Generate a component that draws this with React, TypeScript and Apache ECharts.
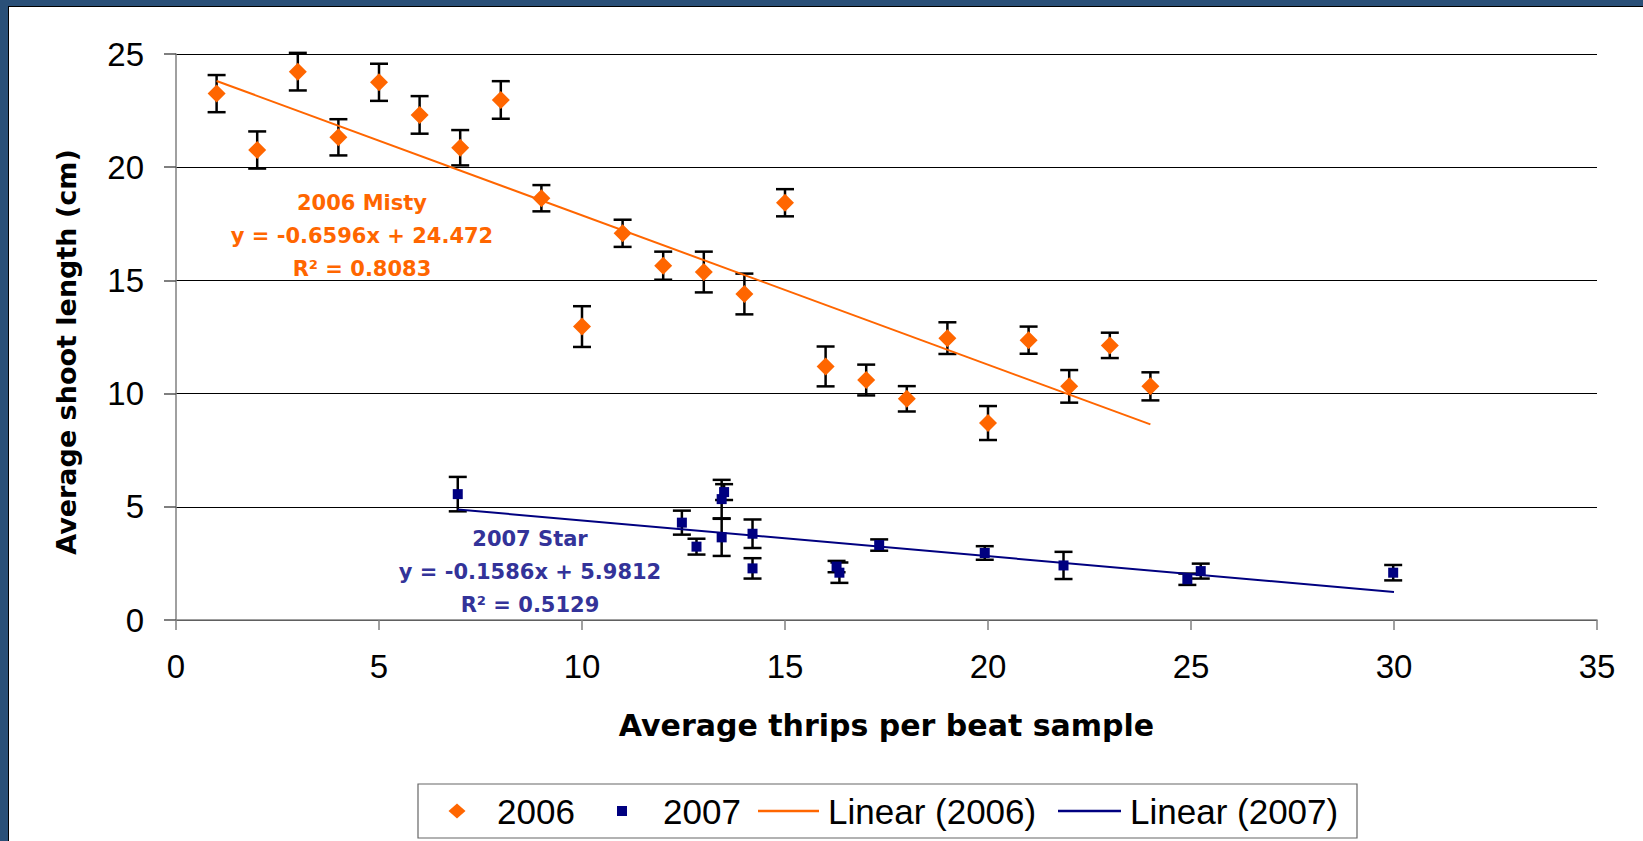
import React, { useEffect, useRef } from "react";
import * as echarts from "echarts";

// ---- data ----
const x2006 = [1, 2, 3, 4, 5, 6, 7, 8, 9, 10, 11, 12, 13, 14, 15, 16, 17, 18, 19, 20, 21, 22, 23, 24];
const y2006 = [23.25, 20.76, 24.22, 21.32, 23.75, 22.31, 20.86, 22.97, 18.63, 12.96, 17.08, 15.65, 15.37, 14.4, 18.43, 11.2, 10.6, 9.77, 12.45, 8.7, 12.36, 10.32, 12.13, 10.32];
const err2006 = [0.82, 0.82, 0.83, 0.8, 0.82, 0.83, 0.78, 0.83, 0.58, 0.9, 0.6, 0.62, 0.9, 0.9, 0.6, 0.88, 0.68, 0.56, 0.7, 0.75, 0.6, 0.72, 0.56, 0.62];

const x2007 = [6.94, 12.46, 12.82, 13.44, 13.44, 13.5, 14.2, 14.2, 16.27, 16.34, 17.32, 19.92, 21.86, 24.91, 25.24, 29.98];
const y2007 = [5.56, 4.3, 3.24, 3.65, 5.34, 5.65, 3.81, 2.28, 2.36, 2.09, 3.31, 2.96, 2.41, 1.8, 2.16, 2.09];
const err2007 = [0.76, 0.53, 0.35, 0.82, 0.85, 0.35, 0.63, 0.45, 0.25, 0.45, 0.25, 0.3, 0.6, 0.25, 0.33, 0.34];

const trend2006X = [1, 24];
const trend2006Y = [23.81, 8.64];
const trend2007X = [6.94, 30];
const trend2007Y = [4.88, 1.24];

const xTicks = { min: 0, max: 35, interval: 5 };
const yTicks = { min: 0, max: 25, interval: 5 };

const seriesNames = ["2006", "2007", "Linear (2006)", "Linear (2007)"];
const note2006 = ["2006 Misty", "y = -0.6596x + 24.472", "R\u00b2 = 0.8083"];
const note2007 = ["2007 Star", "y = -0.1586x + 5.9812", "R\u00b2 = 0.5129"];

const ORANGE = "#FF6600";
const NAVY = "#000080";
const NOTE_BLUE = "#333399";
const ARIAL = "'Liberation Sans', Arial, sans-serif";
const BOLDFONT = "'DejaVu Sans', sans-serif";

const zip2 = (a: number[], b: number[]) => a.map((v, i) => [v, b[i]]);
const zip3 = (a: number[], b: number[], c: number[]) => a.map((v, i) => [v, b[i], c[i]]);

function errorBarRender(params: any, api: any) {
  const x = api.value(0);
  const y = api.value(1);
  const e = api.value(2);
  const top = api.coord([x, y + e]);
  const bot = api.coord([x, y - e]);
  const hw = 9;
  const style = { stroke: "#000", lineWidth: 2.5 };
  return {
    type: "group",
    children: [
      { type: "line", shape: { x1: top[0], y1: top[1], x2: bot[0], y2: bot[1] }, style },
      { type: "line", shape: { x1: top[0] - hw, y1: top[1], x2: top[0] + hw, y2: top[1] }, style },
      { type: "line", shape: { x1: bot[0] - hw, y1: bot[1], x2: bot[0] + hw, y2: bot[1] }, style },
    ],
  };
}

function noteTexts(lines: string[], cx: number, cy0: number, color: string) {
  return lines.map((t, i) => ({
    type: "text",
    x: cx,
    y: cy0 + i * 33,
    style: {
      text: t,
      fill: color,
      font: `bold 21px ${BOLDFONT}`,
      textAlign: "center",
      textVerticalAlign: "middle",
    },
    z: 10,
  }));
}

function legendText(t: string, x: number, y: number) {
  return {
    type: "text",
    x,
    y,
    style: { text: t, fill: "#000", font: `35px ${ARIAL}`, textAlign: "left", textVerticalAlign: "middle" },
    z: 10,
  };
}

function buildLegend() {
  const cy = 811;
  return [
    {
      type: "rect",
      shape: { x: 418, y: 784, width: 939, height: 54 },
      style: { fill: "#fff", stroke: "#666", lineWidth: 1.2 },
      z: 5,
    },
    {
      type: "polygon",
      shape: { points: [[457, cy - 7.5], [465.5, cy], [457, cy + 7.5], [448.5, cy]] },
      style: { fill: ORANGE },
      z: 10,
    },
    legendText(seriesNames[0], 497, cy),
    { type: "rect", shape: { x: 617, y: cy - 5, width: 10, height: 10 }, style: { fill: NAVY }, z: 10 },
    legendText(seriesNames[1], 663, cy),
    { type: "line", shape: { x1: 758, y1: cy, x2: 819, y2: cy }, style: { stroke: ORANGE, lineWidth: 2.5 }, z: 10 },
    legendText(seriesNames[2], 828, cy),
    { type: "line", shape: { x1: 1058, y1: cy, x2: 1121, y2: cy }, style: { stroke: NAVY, lineWidth: 2.5 }, z: 10 },
    legendText(seriesNames[3], 1130, cy),
  ];
}

export default function App() {
  const ref = useRef<HTMLDivElement>(null);

  useEffect(() => {
    if (!ref.current) return;
    const chart = echarts.init(ref.current, undefined, { renderer: "svg" });
    const option: any = {
      animation: false,
      backgroundColor: "#ffffff",
      grid: { left: 176, right: 46, top: 54, bottom: 221, containLabel: false },
      xAxis: {
        type: "value",
        min: xTicks.min,
        max: xTicks.max,
        interval: xTicks.interval,
        axisLine: { show: true, onZero: false, lineStyle: { color: "#808080", width: 1.5 } },
        axisTick: { show: true, length: 10, lineStyle: { color: "#808080", width: 1.5 } },
        splitLine: { show: false },
        axisLabel: { fontSize: 33, color: "#000", margin: 30, fontFamily: ARIAL },
        name: "Average thrips per beat sample",
        nameLocation: "middle",
        nameGap: 90,
        nameTextStyle: { fontSize: 30, fontWeight: "bold", fontFamily: BOLDFONT, color: "#000" },
      },
      yAxis: {
        type: "value",
        min: yTicks.min,
        max: yTicks.max,
        interval: yTicks.interval,
        axisLine: { show: true, lineStyle: { color: "#808080", width: 1.5 } },
        axisTick: { show: true, length: 12, lineStyle: { color: "#555", width: 1.5 } },
        splitLine: { show: true, lineStyle: { color: "#000", width: 1 } },
        axisLabel: { fontSize: 33, color: "#000", margin: 32, fontFamily: ARIAL },
        name: "Average shoot length (cm)",
        nameLocation: "middle",
        nameGap: 96,
        nameRotate: 90,
        nameTextStyle: {
          fontSize: 27,
          fontWeight: "bold",
          fontFamily: BOLDFONT,
          color: "#000",
          padding: [0, 30, 0, 0],
        },
      },
      series: [
        {
          name: "err2006",
          type: "custom",
          renderItem: errorBarRender,
          data: zip3(x2006, y2006, err2006),
          encode: { x: 0, y: 1 },
          z: 1,
          silent: true,
        },
        {
          name: "err2007",
          type: "custom",
          renderItem: errorBarRender,
          data: zip3(x2007, y2007, err2007),
          encode: { x: 0, y: 1 },
          z: 1,
          silent: true,
        },
        {
          name: seriesNames[2],
          type: "line",
          data: zip2(trend2006X, trend2006Y),
          showSymbol: false,
          symbol: "none",
          lineStyle: { color: ORANGE, width: 2 },
          itemStyle: { color: ORANGE },
          z: 2,
        },
        {
          name: seriesNames[3],
          type: "line",
          data: zip2(trend2007X, trend2007Y),
          showSymbol: false,
          symbol: "none",
          lineStyle: { color: NAVY, width: 2 },
          itemStyle: { color: NAVY },
          z: 2,
        },
        {
          name: seriesNames[0],
          type: "scatter",
          symbol: "diamond",
          symbolSize: 18,
          data: zip2(x2006, y2006),
          itemStyle: { color: ORANGE, opacity: 1 },
          z: 3,
        },
        {
          name: seriesNames[1],
          type: "scatter",
          symbol: "rect",
          symbolSize: 10,
          data: zip2(x2007, y2007),
          itemStyle: { color: NAVY, opacity: 1 },
          z: 3,
        },
      ],
      graphic: [
        { type: "rect", shape: { x: 0, y: 0, width: 1643, height: 6 }, style: { fill: "#2a5078" }, z: 20 },
        { type: "rect", shape: { x: 0, y: 0, width: 8, height: 841 }, style: { fill: "#2a5078" }, z: 20 },
        { type: "rect", shape: { x: 8, y: 6, width: 1635, height: 1 }, style: { fill: "#000" }, z: 20 },
        { type: "rect", shape: { x: 8, y: 6, width: 1, height: 835 }, style: { fill: "#000" }, z: 20 },
        ...buildLegend(),
        ...noteTexts(note2006, 362, 203, ORANGE),
        ...noteTexts(note2007, 530, 539, NOTE_BLUE),
      ],
    };
    chart.setOption(option);
    return () => chart.dispose();
  }, []);

  return (
    <div
      ref={ref}
      style={{ position: "absolute", left: 0, top: 0, width: 1643, height: 841, background: "#fff" }}
    />
  );
}
